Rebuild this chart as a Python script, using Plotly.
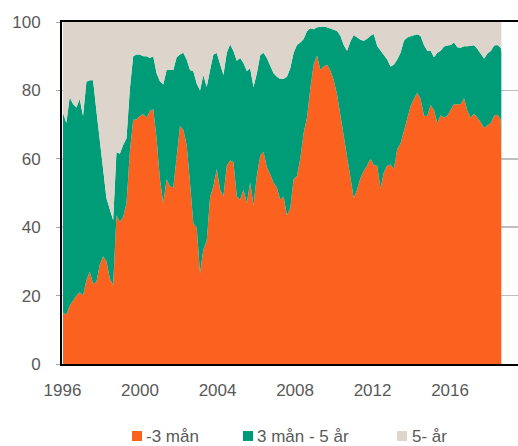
import pandas as pd
import plotly.graph_objects as go

# Sample dates (data at a regular spacing)
dates = [d.strftime("%Y-%m-%d") for d in pd.date_range("1996-01-10", periods=132, freq="63D")] + ["2018-08-25"]

# Share of debt by maturity (%)
short = [14.9, 14.5, 17.0, 18.5, 20.0, 21.0, 20.0, 24.5, 27.0, 23.5,
         24.0, 29.0, 31.5, 30.0, 25.0, 23.0, 43.5, 41.5, 43.0, 47.0,
         62.0, 71.4, 71.5, 72.5, 73.0, 72.0, 74.0, 74.5, 66.0, 54.0,
         47.0, 54.0, 52.0, 51.5, 61.0, 69.5, 68.5, 64.0, 53.0, 41.0,
         40.0, 26.5, 33.5, 36.0, 48.7, 52.0, 57.0, 51.0, 49.0, 58.0,
         59.5, 59.0, 49.0, 48.0, 51.0, 47.0, 53.0, 46.5, 55.0, 61.0,
         62.0, 57.5, 55.5, 53.0, 51.5, 48.0, 49.0, 43.5, 45.5, 54.0,
         55.0, 60.0, 67.5, 72.0, 80.5, 87.5, 90.2, 86.0, 87.0, 87.5,
         85.8, 83.0, 78.8, 73.0, 66.0, 61.0, 54.5, 48.5, 51.0, 54.3,
         56.5, 58.0, 60.0, 58.2, 58.0, 51.3, 56.0, 58.0, 58.3, 57.0,
         62.8, 64.5, 68.0, 72.0, 75.4, 77.5, 79.3, 77.5, 72.6, 72.5,
         75.7, 74.2, 70.5, 72.7, 72.0, 72.6, 74.4, 76.0, 75.9, 76.0,
         77.7, 74.0, 72.0, 73.2, 72.0, 70.7, 69.0, 69.7, 70.5, 72.6,
         72.9, 71.4, 61.0]

mid = [58.5, 56.0, 61.0, 57.5, 55.0, 56.5, 52.5, 58.0, 56.0, 59.5,
       50.0, 35.5, 25.5, 18.5, 20.0, 19.0, 18.5, 20.0, 21.0, 19.0,
       18.5, 18.6, 19.0, 18.0, 17.0, 18.0, 15.5, 15.5, 19.0, 28.7,
       34.7, 32.0, 34.0, 34.5, 28.7, 21.0, 22.5, 25.0, 33.0, 44.6,
       42.0, 53.5, 51.0, 45.0, 37.3, 38.5, 33.9, 36.5, 35.5, 33.0,
       34.0, 32.5, 39.7, 41.5, 37.0, 38.7, 33.5, 34.5, 30.0, 29.3,
       29.0, 32.0, 32.0, 32.0, 32.5, 35.3, 34.4, 40.5, 41.0, 37.0,
       38.3, 34.0, 27.5, 25.3, 17.7, 10.4, 8.3, 12.7, 11.7, 11.0,
       12.3, 14.8, 18.6, 23.0, 27.3, 30.6, 39.8, 47.7, 44.5, 40.5,
       38.0, 37.1, 36.0, 38.3, 35.0, 40.3, 34.5, 31.0, 28.7, 30.5,
       26.2, 26.5, 26.5, 23.5, 20.4, 18.7, 17.1, 18.4, 20.7, 19.1,
       15.9, 15.5, 20.5, 18.9, 20.8, 20.5, 18.9, 18.0, 16.7, 16.5,
       15.2, 18.9, 21.1, 20.0, 20.1, 19.9, 20.3, 21.1, 21.0, 20.5,
       20.4, 21.1, 30.0]

long_ = [26.6, 29.5, 22.0, 24.0, 25.0, 22.5, 27.5, 17.5, 17.0, 17.0,
         26.0, 35.5, 43.0, 51.5, 55.0, 58.0, 38.0, 38.5, 36.0, 34.0,
         19.5, 10.0, 9.5, 9.5, 10.0, 10.0, 10.5, 10.0, 15.0, 17.3,
         18.3, 14.0, 14.0, 14.0, 10.3, 9.5, 9.0, 11.0, 14.0, 14.4,
         18.0, 20.0, 15.5, 19.0, 14.0, 9.5, 9.1, 12.5, 15.5, 9.0,
         6.5, 8.5, 11.3, 10.5, 12.0, 14.3, 13.5, 19.0, 15.0, 9.7,
         9.0, 10.5, 12.5, 15.0, 16.0, 16.7, 16.6, 16.0, 13.5, 9.0,
         6.7, 6.0, 5.0, 2.7, 1.8, 2.1, 1.5, 1.3, 1.3, 1.5,
         1.9, 2.2, 2.6, 4.0, 6.7, 8.4, 5.7, 3.8, 4.5, 5.2,
         5.5, 4.9, 4.0, 3.5, 7.0, 8.4, 9.5, 11.0, 13.0, 12.5,
         11.0, 9.0, 5.5, 4.5, 4.2, 3.8, 3.6, 4.1, 6.7, 8.4,
         8.4, 10.3, 9.0, 8.4, 7.2, 6.9, 6.7, 6.0, 7.4, 7.5,
         7.1, 7.1, 6.9, 6.8, 7.9, 9.4, 10.7, 9.2, 8.5, 6.9,
         6.7, 7.5, 9.0]

names = ["-3 mån", "3 mån - 5 år", "5- år"]
colors = ["#FB6220", "#009B77", "#DDD5CC"]
y_ticks = [0, 20, 40, 60, 80, 100]

W, H = 518, 446
ML, MR, MT, MB = 62, 0, 22, 82
PW, PH = W - ML - MR, H - MT - MB
TEXT = "#595959"
FONT = "Liberation Sans, Arial, sans-serif"

fig = go.Figure()
for vals, name, col in zip([short, mid, long_], names, colors):
    fig.add_trace(go.Scatter(
        x=dates, y=vals, name=name, stackgroup="one", mode="lines",
        line=dict(width=0, color=col), fillcolor=col,
        showlegend=False, hoverinfo="skip"))

# manual legend (squares + labels) below the plot
def px_x(p):
    return (p - ML) / PW

def px_y(p):
    return (H - MB - p) / PH

legend_pos = [(132, 146), (243, 257), (397, 412)]
leg_y = 436
for (sq_x, tx), name, col in zip(legend_pos, names, colors):
    fig.add_shape(type="rect", xref="paper", yref="paper",
                  x0=px_x(sq_x), x1=px_x(sq_x + 10),
                  y0=px_y(leg_y + 5), y1=px_y(leg_y - 5),
                  fillcolor=col, line=dict(width=0))
    fig.add_annotation(xref="paper", yref="paper", x=px_x(tx), y=px_y(leg_y),
                       text=name, showarrow=False, xanchor="left", yanchor="middle",
                       font=dict(family=FONT, size=17, color=TEXT),
                       borderpad=0, borderwidth=0)

fig.update_layout(
    width=W, height=H,
    margin=dict(l=ML, r=MR, t=MT, b=MB, pad=0, autoexpand=False),
    paper_bgcolor="white", plot_bgcolor="white",
    showlegend=False,
    font=dict(family=FONT, size=17, color=TEXT),
)
fig.update_xaxes(
    type="date", range=["1995-12-22", "2019-07-05"],
    tick0="1996-01-01", dtick="M48", tickformat="%Y",
    showgrid=False, zeroline=False, automargin=False,
    showline=True, linecolor="black", linewidth=2, mirror=True,
    ticks="", ticklabelstandoff=10,
    tickfont=dict(family=FONT, size=17, color=TEXT),
)
fig.update_yaxes(
    range=[0, 100], tickvals=y_ticks, automargin=False,
    showgrid=True, gridcolor="#BFBFBF", gridwidth=1.5, zeroline=False,
    showline=True, linecolor="black", linewidth=2,
    ticks="outside", ticklen=4, tickcolor="#A6A6A6", tickwidth=1,
    ticklabelstandoff=12,
    tickfont=dict(family=FONT, size=17, color=TEXT),
)

fig.write_html(
    "out.html",
    config={"displayModeBar": False, "staticPlot": True},
    post_script="document.body.style.margin='0';document.body.style.padding='0';document.body.style.overflow='hidden';",
)
